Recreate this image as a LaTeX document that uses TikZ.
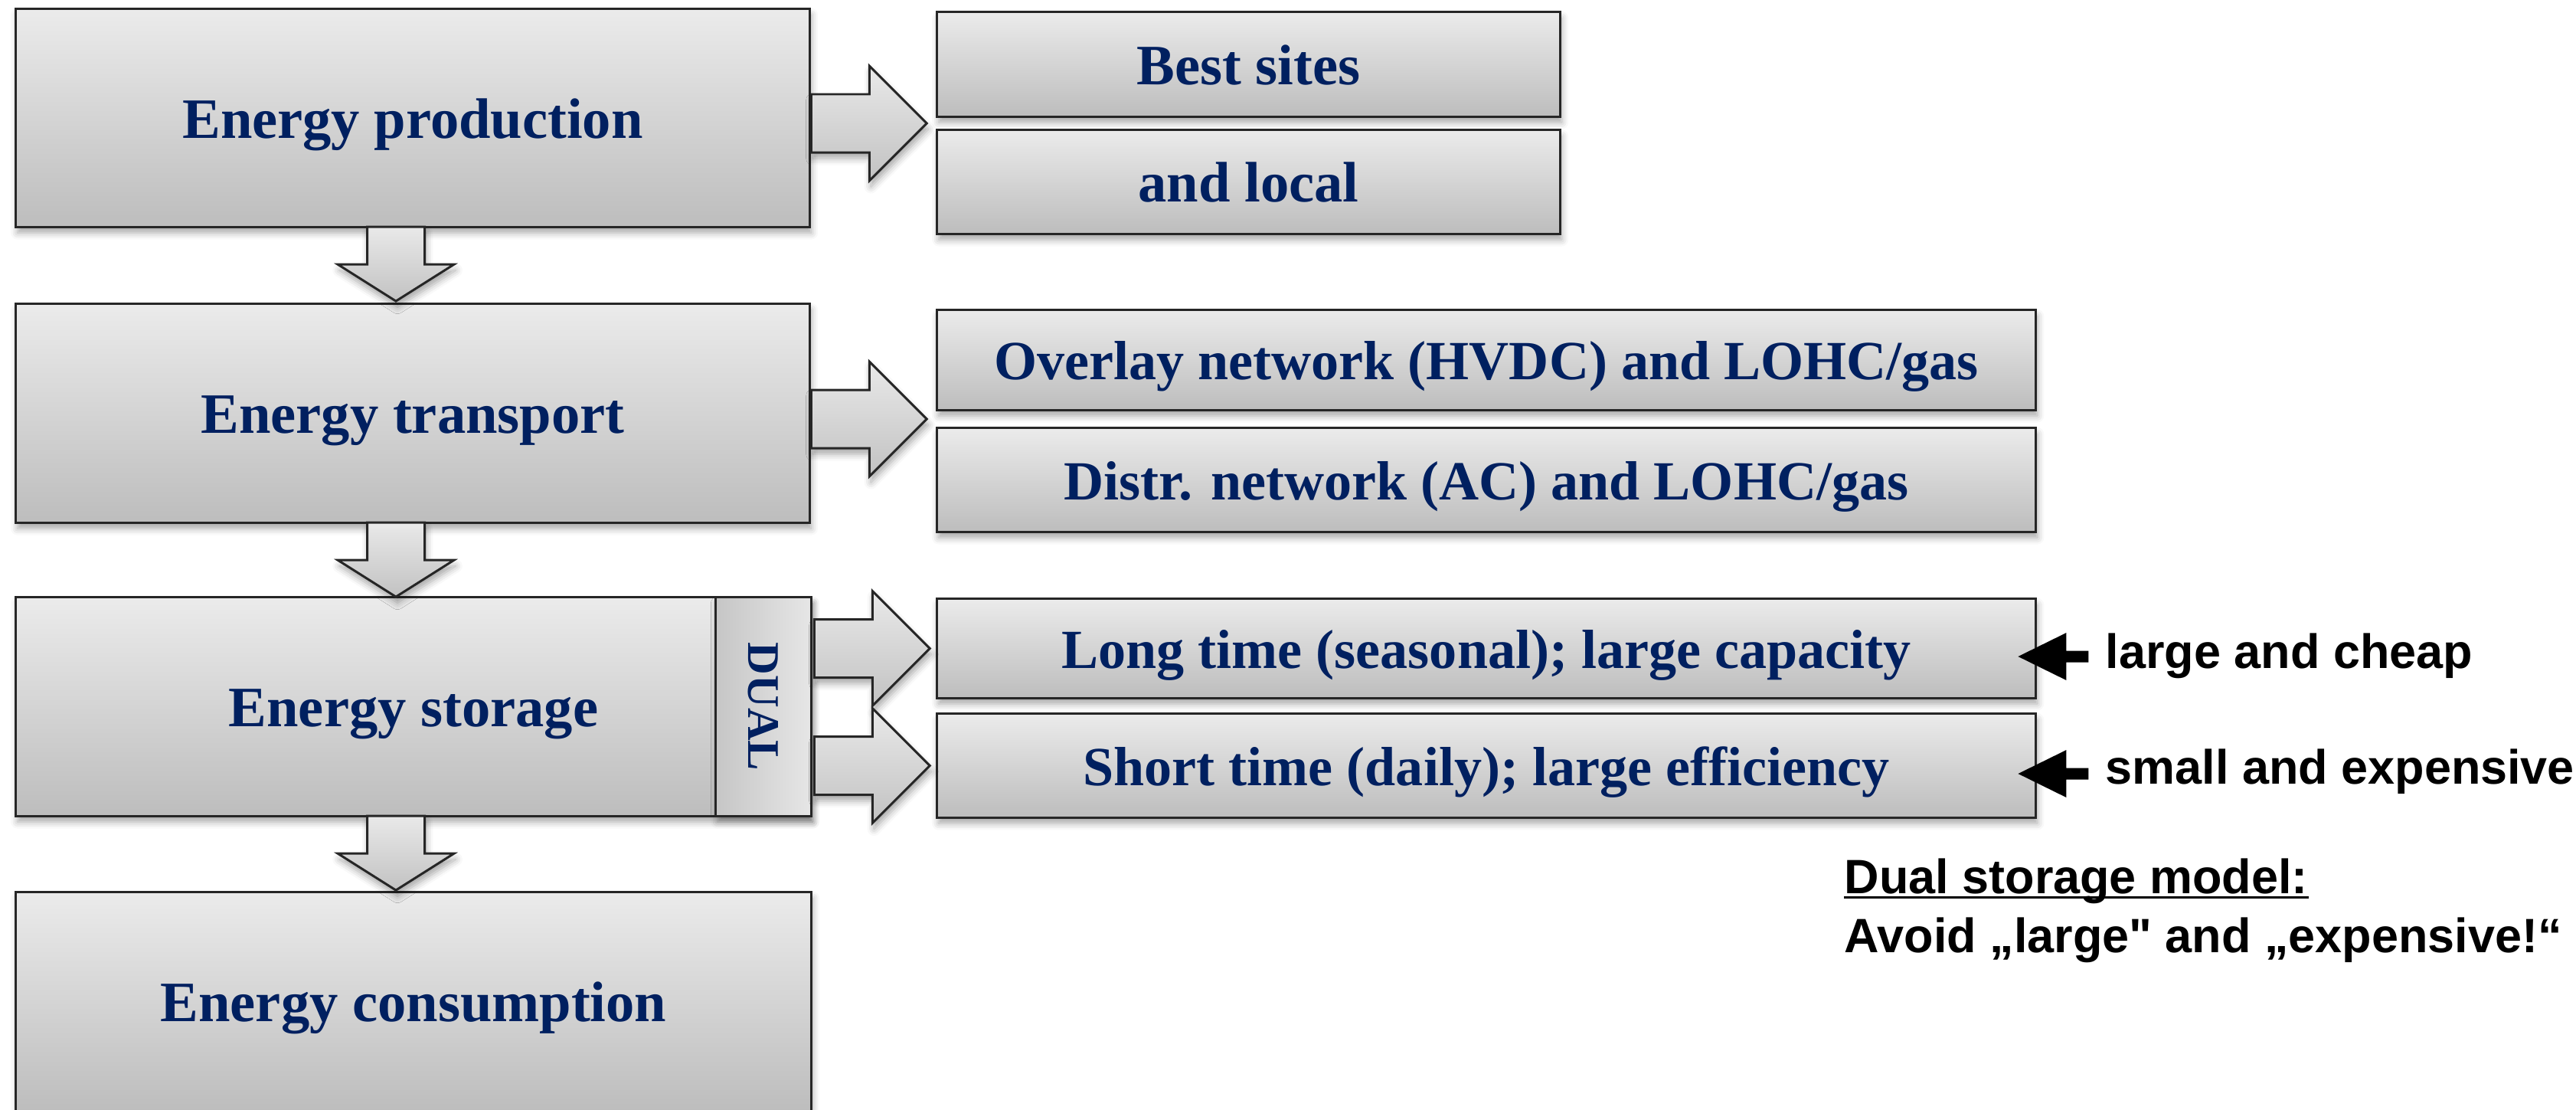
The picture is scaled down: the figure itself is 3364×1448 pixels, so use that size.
\documentclass[tikz,border=0pt]{standalone}
\usepackage{fontspec}
\setmainfont{Liberation Serif}
\newfontfamily\notefont{Liberation Sans}
\usetikzlibrary{calc,shadows.blur}

\definecolor{navy}{HTML}{002060}
\definecolor{edge}{HTML}{262626}
\definecolor{gtop}{HTML}{EBEBEB}
\definecolor{gbot}{HTML}{BDBDBD}
\definecolor{atop}{HTML}{E9E9E9}
\definecolor{abot}{HTML}{C2C2C2}
\definecolor{dleft}{HTML}{C6C6C6}
\definecolor{dright}{HTML}{E6E6E6}

\tikzset{
  softshadow/.style={blur shadow={shadow xshift=0.6pt, shadow yshift=-2.2pt,
      shadow blur radius=2.5pt, shadow opacity=35}},
  panel/.style={draw=edge, line width=0.85pt, top color=gtop, bottom color=gbot,
      softshadow, inner sep=0pt, outer sep=0pt, text=navy,
      font=\fontsize{21.2}{25}\selectfont\bfseries,
      text height=15pt, text depth=0pt, align=center},
  widepanel/.style={panel, font=\fontsize{20.5}{24}\selectfont\bfseries,
      text height=14.6pt},
  dualpanel/.style={draw=edge, line width=0.85pt, left color=dleft, right color=dright,
      softshadow, inner sep=0pt, outer sep=0pt},
  blockarrow/.style={draw=edge, line width=0.85pt, line join=miter,
      top color=atop, bottom color=abot, softshadow},
  note/.style={font=\notefont\fontsize{17.9}{21}\selectfont\bfseries,
      anchor=base west, inner sep=0pt, text=black},
  downarr/.pic={\path[blockarrow] (-37.5,0) -- (37.5,0) -- (37.5,49) -- (76,49)
      -- (0,97) -- (-76,49) -- (-37.5,49) -- cycle;},
  rightarr/.pic={\path[blockarrow] (0,-38) -- (76,-38) -- (76,-75) -- (151,0)
      -- (76,75) -- (76,38) -- (0,38) -- cycle;},
  pointerarr/.pic={\fill[black] (0,0) -- (63,-31) -- (63,-7.5) -- (92,-7.5)
      -- (92,7.5) -- (63,7.5) -- (63,31) -- cycle;},
}

\begin{document}
\begin{tikzpicture}[x=0.01cm, y=-0.01cm]
\useasboundingbox (0,0) rectangle (3364,1448);

% main chain of stages
\node[panel, minimum width=10.36cm, minimum height=2.84cm] (prod)  at (539,154)    {Energy production};
\node[panel, minimum width=10.36cm, minimum height=2.85cm] (trans) at (539,539.5)  {Energy transport};
\node[panel, minimum width=10.38cm, minimum height=2.85cm] (stor)  at (540,922.5)  {Energy storage};
\node[dualpanel, minimum width=1.24cm, minimum height=2.85cm] (dual) at (997,922.5) {};
\node[text=navy, font=\fontsize{16.8}{20}\selectfont\bfseries, rotate=-90, inner sep=0pt] (dualtext) at (dual.center) {DUAL};
\node[panel, minimum width=10.38cm, minimum height=2.85cm] (cons)  at (540,1307.5) {Energy consumption};

% options per stage
\node[panel, minimum width=8.13cm,  minimum height=1.36cm] (best)  at (1630.5,84)   {Best sites};
\node[panel, minimum width=8.13cm,  minimum height=1.35cm] (local) at (1630.5,237.5){and local};
\node[widepanel, minimum width=14.34cm, minimum height=1.30cm] (over)  at (1941,470)    {Overlay network (HVDC) and LOHC/gas};
\node[widepanel, minimum width=14.34cm, minimum height=1.35cm] (distr) at (1941,626.5)  {Distr. network (AC) and LOHC/gas};
\node[widepanel, minimum width=14.34cm, minimum height=1.29cm] (long)  at (1941,846.5)  {Long time (seasonal); large capacity};
\node[widepanel, minimum width=14.34cm, minimum height=1.35cm] (short) at (1941,999.5)  {Short time (daily); large efficiency};

% flow arrows between stages
\coordinate (flowaxis) at (517,0);
\pic at (prod.south -| flowaxis) {downarr};
\pic at (trans.south -| flowaxis) {downarr};
\pic at (stor.south -| flowaxis) {downarr};

% arrows from stages to their options
\coordinate (gapA) at ($(best.south)!0.5!(local.north)$);
\coordinate (gapB) at ($(over.south)!0.5!(distr.north)$);
\pic at ([xshift=0.02cm]prod.east |- gapA) {rightarr};
\pic at ([xshift=0.02cm]trans.east |- gapB) {rightarr};
\pic at ([xshift=0.04cm]stor.east |- long.east) {rightarr};
\pic at ([xshift=0.04cm]stor.east |- short.east) {rightarr};

% remarks on the two storage kinds
\pic at ([xshift=-0.23cm, yshift=-0.105cm]long.east) {pointerarr};
\pic at ([xshift=-0.23cm, yshift=-0.105cm]short.east) {pointerarr};
\node[note] (cheap) at (2749,872)  {large and cheap};
\node[note] (dear)  at (2749,1023) {small and expensive};

\node[note] (model) at (2408,1166) {Dual storage model:};
\draw[line width=0.85pt] ([yshift=-0.055cm]model.base west) -- ([yshift=-0.055cm]model.base east);
\node[note] (avoid) at (2408,1243) {Avoid „large" and „expensive!“};
\end{tikzpicture}
\end{document}
